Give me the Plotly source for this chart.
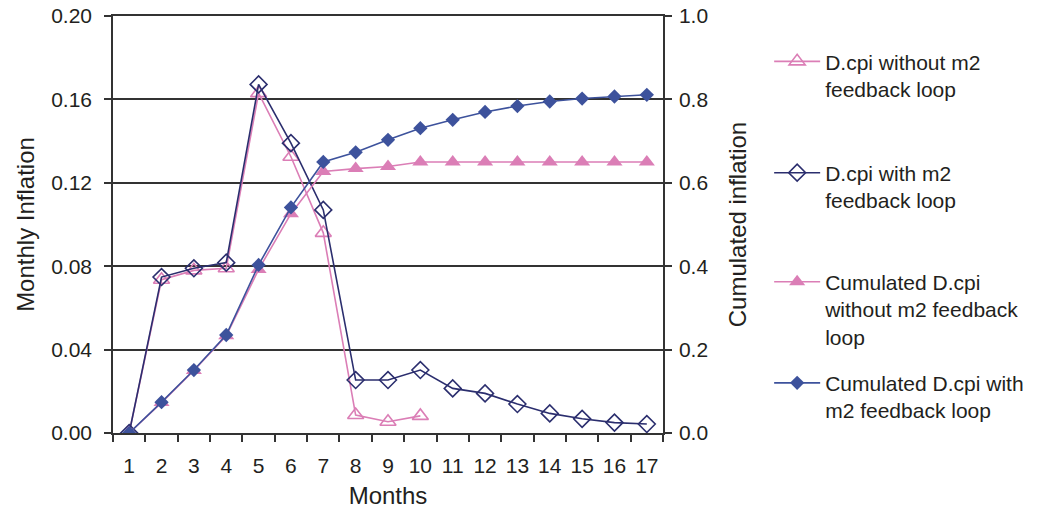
import plotly.graph_objects as go

months = [str(m) for m in range(1, 18)]

dcpi_without_m2 = [0.000, 0.0735, 0.078, 0.079, 0.163, 0.1325, 0.096, 0.0086, 0.0054, 0.0082]
dcpi_with_m2 = [0.000, 0.0748, 0.079, 0.0817, 0.1672, 0.139, 0.107, 0.0254, 0.0254, 0.0302,
                0.0214, 0.0190, 0.0139, 0.0094, 0.0068, 0.0050, 0.0043]
cum_without_m2 = [0.000, 0.073, 0.150, 0.233, 0.392, 0.526, 0.627, 0.634, 0.639, 0.650,
                  0.650, 0.650, 0.650, 0.650, 0.650, 0.650, 0.650]
cum_with_m2 = [0.000, 0.074, 0.151, 0.235, 0.403, 0.541, 0.650, 0.673, 0.703, 0.731,
               0.751, 0.770, 0.784, 0.795, 0.802, 0.807, 0.811]
left_ticks = [0.0, 0.04, 0.08, 0.12, 0.16, 0.2]
right_ticks = [0.0, 0.2, 0.4, 0.6, 0.8, 1.0]

PINK = "#DB7EB6"
NAVY = "#2B2E6E"
BLUE = "#3D529C"
TXT = "#231F20"
AX = "#333333"
FONT = "Liberation Sans, Arial, sans-serif"

fig = go.Figure()

fig.add_trace(go.Scatter(
    x=months[:len(dcpi_without_m2)], y=dcpi_without_m2, mode="lines+markers",
    name="D.cpi without m2<br>feedback loop",
    line=dict(color=PINK, width=1.6),
    marker=dict(symbol="triangle-up-open", size=14, color=PINK, line=dict(width=1.6, color=PINK)),
    yaxis="y", legend="legend"))

fig.add_trace(go.Scatter(
    x=months, y=dcpi_with_m2, mode="lines+markers",
    name="D.cpi with m2<br>feedback loop",
    line=dict(color=NAVY, width=1.6),
    marker=dict(symbol="diamond-open", size=13, color=NAVY, line=dict(width=1.6, color=NAVY)),
    yaxis="y", legend="legend2"))

fig.add_trace(go.Scatter(
    x=months, y=cum_without_m2, mode="lines+markers",
    name="Cumulated D.cpi<br>without m2 feedback<br>loop",
    line=dict(color=PINK, width=1.6),
    marker=dict(symbol="triangle-up", size=14, color=PINK),
    yaxis="y2", legend="legend3"))

fig.add_trace(go.Scatter(
    x=months, y=cum_with_m2, mode="lines+markers",
    name="Cumulated D.cpi with<br>m2 feedback loop",
    line=dict(color=BLUE, width=1.6),
    marker=dict(symbol="diamond", size=11, color=BLUE),
    yaxis="y2", legend="legend4"))

legend_common = dict(
    x=1.193, xanchor="left", yanchor="middle",
    font=dict(family=FONT, size=21, color=TXT),
    bgcolor="rgba(0,0,0,0)", valign="top", itemwidth=46,
)

fig.update_layout(
    width=1053, height=512,
    margin=dict(l=113, r=390, t=16, b=79, autoexpand=False),
    paper_bgcolor="white", plot_bgcolor="white",
    font=dict(family=FONT, size=21, color=TXT),
    showlegend=True,
    legend=dict(y=0.858, **legend_common),
    legend2=dict(y=0.591, **legend_common),
    legend3=dict(y=0.297, **legend_common),
    legend4=dict(y=0.087, **legend_common),
    xaxis=dict(
        type="category", tickson="boundaries", ticks="outside", ticklen=7,
        tickcolor=AX, tickwidth=1.5, automargin=False, tickangle=0,
        showline=True, linecolor=AX, linewidth=1.5, mirror=True,
        showgrid=False, zeroline=False,
        title=dict(text="Months", font=dict(size=24), standoff=11),
        tickfont=dict(size=21), ticklabelstandoff=13,
        range=[-0.5, 16.5],
    ),
    yaxis=dict(
        range=[0, 0.2], tickmode="array", tickvals=left_ticks,
        ticktext=[f"{v:.2f}" for v in left_ticks], automargin=False,
        ticklabeloverflow="allow",
        ticks="outside", ticklen=7, tickcolor=AX, tickwidth=1.5,
        showline=True, linecolor=AX, linewidth=1.5,
        showgrid=True, gridcolor=AX, gridwidth=1.5,
        zeroline=False,
        title=dict(text="Monthly Inflation", font=dict(size=24), standoff=10),
        tickfont=dict(size=21), ticklabelstandoff=8,
    ),
    yaxis2=dict(
        range=[0, 1.0], tickmode="array", tickvals=right_ticks,
        ticktext=[f"{v:.1f}" for v in right_ticks], overlaying="y", side="right",
        ticklabeloverflow="allow",
        ticks="outside", ticklen=7, tickcolor=AX, tickwidth=1.5, automargin=False,
        showline=True, linecolor=AX, linewidth=1.5,
        showgrid=False, zeroline=False,
        title=dict(text="Cumulated inflation", font=dict(size=24), standoff=22),
        tickfont=dict(size=21), ticklabelstandoff=3,
    ),
)

# remove the page's default 8px body margin so the figure fills the window
fig.write_html("out.html", config={"displayModeBar": False},
               post_script="document.body.style.margin='0px';")
